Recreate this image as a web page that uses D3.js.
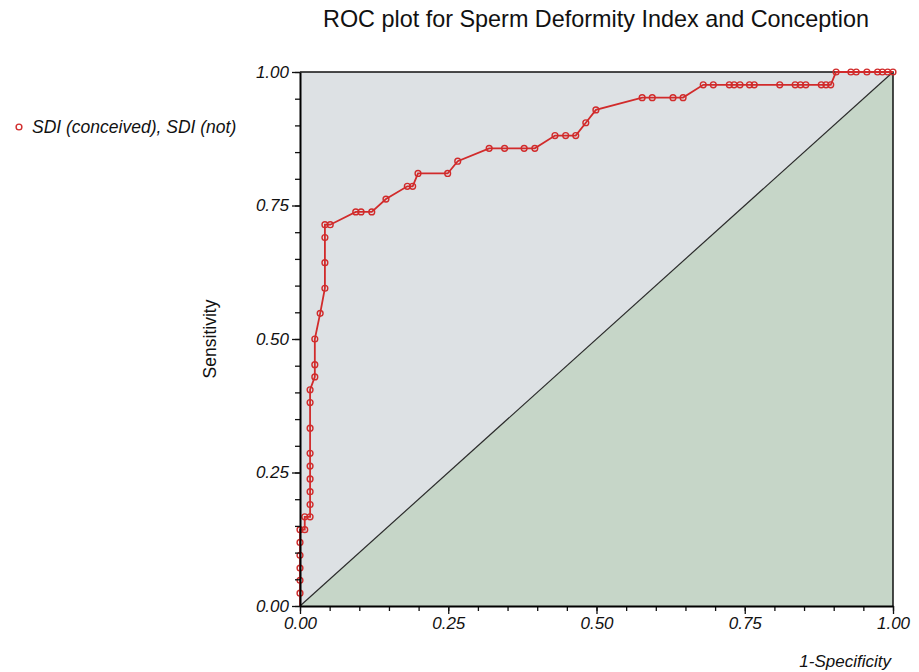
<!DOCTYPE html>
<html>
<head>
<meta charset="utf-8">
<script src="https://cdn.jsdelivr.net/npm/d3@7"></script>
<style>
body { margin: 0; background: #fff; }
text { font-family: "Liberation Sans", Arial, sans-serif; }
</style>
</head>
<body>
<svg id="visframe" width="919" height="672"></svg>
<script>
// 1-Specificity (false positive fraction)
var fpr = [0, 0, 0, 0, 0, 0, 0, 0.008, 0.008, 0.017, 0.017, 0.017, 0.017, 0.017, 0.017,
    0.017, 0.017, 0.017, 0.025, 0.025, 0.025, 0.034, 0.042, 0.042, 0.042, 0.042, 0.051,
    0.094, 0.103, 0.121, 0.145, 0.181, 0.190, 0.199, 0.249, 0.266, 0.319, 0.345, 0.378,
    0.396, 0.430, 0.448, 0.465, 0.482, 0.499, 0.577, 0.594, 0.629, 0.646, 0.680, 0.697,
    0.724, 0.732, 0.742, 0.758, 0.766, 0.809, 0.835, 0.844, 0.853, 0.879, 0.887, 0.895,
    0.904, 0.929, 0.938, 0.956, 0.974, 0.982, 0.991, 1.000];
// Sensitivity (true positive fraction)
var tpr = [0, 0.024, 0.048, 0.071, 0.095, 0.119, 0.143, 0.143, 0.167, 0.167, 0.190, 0.214,
    0.238, 0.262, 0.286, 0.333, 0.381, 0.405, 0.429, 0.452, 0.500, 0.548, 0.595, 0.643,
    0.690, 0.714, 0.714, 0.738, 0.738, 0.738, 0.762, 0.786, 0.786, 0.810, 0.810, 0.833,
    0.857, 0.857, 0.857, 0.857, 0.881, 0.881, 0.881, 0.905, 0.929, 0.952, 0.952, 0.952,
    0.952, 0.976, 0.976, 0.976, 0.976, 0.976, 0.976, 0.976, 0.976, 0.976, 0.976, 0.976,
    0.976, 0.976, 0.976, 1, 1, 1, 1, 1, 1, 1, 1];

var majorTicks = [0, 0.25, 0.5, 0.75, 1];
var minorTicks = d3.range(0, 1.0001, 0.05);
var chartTitle = "ROC plot for Sperm Deformity Index and Conception";
var seriesName = "SDI (conceived), SDI (not)";
var xLabel = "1-Specificity";
var yLabel = "Sensitivity";

var plot = { left: 300, top: 72, right: 893, bottom: 606 };
var lineColor = "#d12b2b";

var svg = d3.select("#visframe");

var xScale = d3.scaleLinear().domain([0, 1]).range([plot.left, plot.right]);
var yScale = d3.scaleLinear().domain([0, 1]).range([plot.bottom, plot.top]);

var points = fpr.map(function(d, i) { return [d, tpr[i]]; });

//background: light grey above the diagonal, green below it
svg.append("rect")
    .attr("x", plot.left)
    .attr("y", plot.top)
    .attr("width", plot.right - plot.left)
    .attr("height", plot.bottom - plot.top)
    .attr("fill", "#dde1e4");

svg.append("path")
    .attr("d", d3.line().x(d => xScale(d[0])).y(d => yScale(d[1]))([[0, 0], [1, 1], [1, 0]]))
    .attr("fill", "#c6d6c8");

svg.append("line")
    .attr("x1", xScale(0)).attr("y1", yScale(0))
    .attr("x2", xScale(1)).attr("y2", yScale(1))
    .attr("stroke", "#2b2b2b")
    .attr("stroke-width", 1.2);

// frame on top and right
svg.append("path")
    .attr("d", "M" + plot.left + "," + plot.top + "H" + plot.right + "V" + plot.bottom)
    .attr("fill", "none")
    .attr("stroke", "#111")
    .attr("stroke-width", 1.5);

// ROC curve
svg.append("path")
    .datum(points)
    .attr("d", d3.line().x(d => xScale(d[0])).y(d => yScale(d[1])))
    .attr("fill", "none")
    .attr("stroke", lineColor)
    .attr("stroke-width", 1.8);

svg.selectAll(".pt")
    .data(points.filter(d => d[1] > 0))
    .enter()
    .append("circle")
    .attr("class", "pt")
    .attr("cx", d => xScale(d[0]))
    .attr("cy", d => yScale(d[1]))
    .attr("r", 2.9)
    .attr("fill", "none")
    .attr("stroke", lineColor)
    .attr("stroke-width", 1.4);

// axes: minor ticks first, then majors with labels
var fmt = d3.format(".2f");

svg.append("g")
    .attr("transform", "translate(0," + plot.bottom + ")")
    .call(d3.axisBottom(xScale).tickValues(minorTicks).tickSize(5).tickFormat(""))
    .call(g => g.select(".domain").remove());

svg.append("g")
    .attr("transform", "translate(" + plot.left + ",0)")
    .call(d3.axisLeft(yScale).tickValues(minorTicks).tickSize(5).tickFormat(""))
    .call(g => g.select(".domain").remove());

var xAxis = svg.append("g")
    .attr("transform", "translate(0," + plot.bottom + ")")
    .call(d3.axisBottom(xScale).tickValues(majorTicks).tickSize(8).tickSizeOuter(0).tickPadding(3).tickFormat(fmt));

var yAxis = svg.append("g")
    .attr("transform", "translate(" + plot.left + ",0)")
    .call(d3.axisLeft(yScale).tickValues(majorTicks).tickSize(8).tickSizeOuter(0).tickPadding(3).tickFormat(fmt));

[xAxis, yAxis].forEach(function(ax) {
    ax.select(".domain").attr("stroke-width", 2);
    ax.selectAll("text")
        .attr("font-family", "'Liberation Sans', Arial, sans-serif")
        .attr("font-size", 17)
        .attr("font-style", "italic")
        .attr("fill", "#111");
});

svg.selectAll(".tick line").attr("stroke", "#111").attr("stroke-width", 1.3);

// titles
svg.append("text")
    .attr("x", 596)
    .attr("y", 27)
    .attr("text-anchor", "middle")
    .attr("font-size", 23.4)
    .attr("fill", "#111")
    .text(chartTitle);

svg.append("text")
    .attr("x", 891)
    .attr("y", 667)
    .attr("text-anchor", "end")
    .attr("font-size", 17)
    .attr("font-style", "italic")
    .attr("fill", "#111")
    .text(xLabel);

svg.append("text")
    .attr("transform", "translate(216,339) rotate(-90)")
    .attr("text-anchor", "middle")
    .attr("font-size", 17.5)
    .attr("fill", "#111")
    .text(yLabel);

// legend
svg.append("circle")
    .attr("cx", 19)
    .attr("cy", 127)
    .attr("r", 2.9)
    .attr("fill", "none")
    .attr("stroke", lineColor)
    .attr("stroke-width", 1.4);

svg.append("text")
    .attr("x", 32)
    .attr("y", 133)
    .attr("font-size", 17.5)
    .attr("font-style", "italic")
    .attr("fill", "#111")
    .text(seriesName);
</script>
</body>
</html>
